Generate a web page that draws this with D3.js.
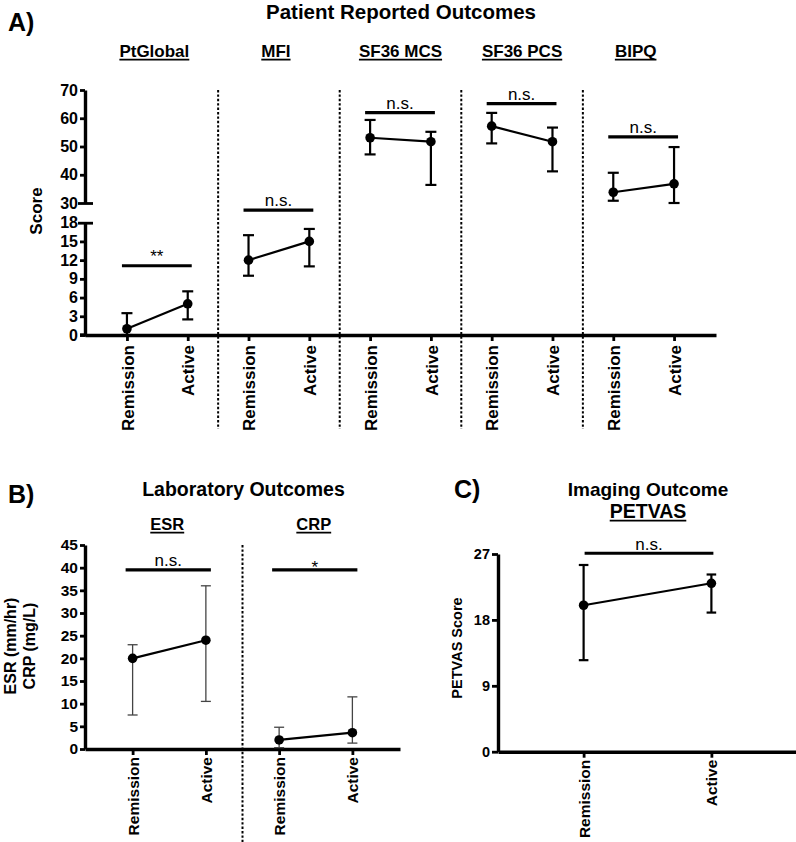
<!DOCTYPE html>
<html>
<head>
<meta charset="utf-8">
<script src="https://cdn.jsdelivr.net/npm/d3@7"></script>
<style>
  html, body { margin: 0; padding: 0; background: #fff; }
  svg { display: block; }
</style>
</head>
<body>
<svg id="chart" width="796" height="842"></svg>
<script>
// ---------------- DATA ----------------
const conditions = ["Remission", "Active"];

// Panel A: Patient Reported Outcomes
const groupsA = ["PtGlobal", "MFI", "SF36 MCS", "SF36 PCS", "BIPQ"];
const meanA  = [[1, 5], [12, 15], [53.1, 51.7], [57.2, 51.7], [33.8, 36.8]];
const upperA = [[3.5, 7], [16, 17], [59.4, 55.2], [61.9, 56.7], [40.7, 49.8]];
const lowerA = [[0, 2.5], [9.5, 11], [47.2, 36.4], [51.1, 41.2], [30.8, 30]];
const sigA = ["**", "n.s.", "n.s.", "n.s.", "n.s."];
const bracketA = [11.1, 20, 62, 65.2, 53.4];
const ticksALow = [0, 3, 6, 9, 12, 15, 18];
const ticksAHigh = [30, 40, 50, 60, 70];

// Panel B: Laboratory Outcomes
const groupsB = ["ESR", "CRP"];
const meanB  = [[20, 24], [2, 3.6]];
const upperB = [[23, 36], [4.8, 11.5]];
const lowerB = [[7.5, 10.5], [0.3, 1.3]];
const sigB = ["n.s.", "*"];
const bracketB = [39.5, 39.5];
const ticksB = [0, 5, 10, 15, 20, 25, 30, 35, 40, 45];

// Panel C: Imaging Outcome
const groupsC = ["PETVAS"];
const meanC  = [[20, 23]];
const upperC = [[25.5, 24.2]];
const lowerC = [[12.5, 19]];
const sigC = ["n.s."];
const bracketC = [27.1];
const ticksC = [0, 9, 18, 27];

// ---------------- DRAW ----------------
const FONT = "'Liberation Sans', Arial, Helvetica, sans-serif";
const svg = d3.select("#chart");
svg.append("rect").attr("width", 796).attr("height", 842).attr("fill", "#fff");

function txt(g, s, x, y, size, weight, anchor) {
  return g.append("text").attr("x", x).attr("y", y)
    .attr("font-family", FONT).attr("font-size", size)
    .attr("font-weight", weight || "bold")
    .attr("text-anchor", anchor || "middle").attr("fill", "#000").text(s);
}
function underlined(g, s, x, y, size) {
  const t = txt(g, s, x, y, size, "bold", "middle");
  const w = t.node().getComputedTextLength();
  g.append("line").attr("x1", x - w / 2).attr("x2", x + w / 2)
    .attr("y1", y + 2.6).attr("y2", y + 2.6)
    .attr("stroke", "#000").attr("stroke-width", 1.8);
}
function styleAxis(g, size) {
  g.attr("font-family", FONT);
  g.selectAll("text").attr("font-size", size).attr("font-weight", "bold").attr("fill", "#000");
  g.selectAll("line").attr("stroke", "#000").attr("stroke-width", 2.8);
  g.select(".domain").attr("stroke", "#000").attr("stroke-width", 3.4);
}
function rotateXLabels(g, offset) {
  g.selectAll("text")
    .attr("transform", "rotate(-90)")
    .attr("x", -offset).attr("y", 0).attr("dy", "0.36em")
    .style("text-anchor", "end");
}

// generic group drawing
function drawGroup(g, xPos, yScale, mean, up, lo, opt) {
  g.append("line")
    .attr("x1", xPos[0]).attr("y1", yScale(mean[0]))
    .attr("x2", xPos[1]).attr("y2", yScale(mean[1]))
    .attr("stroke", "#000").attr("stroke-width", 2.2);
  for (let k = 0; k < 2; k++) {
    const x = xPos[k];
    g.append("line").attr("x1", x).attr("x2", x)
      .attr("y1", yScale(lo[k])).attr("y2", yScale(up[k]))
      .attr("stroke", opt.errColor).attr("stroke-width", opt.errWidth);
    [up[k], lo[k]].forEach(v => {
      g.append("line").attr("x1", x - opt.cap).attr("x2", x + opt.cap)
        .attr("y1", yScale(v)).attr("y2", yScale(v))
        .attr("stroke", opt.errColor).attr("stroke-width", opt.errWidth);
    });
    g.append("circle").attr("cx", x).attr("cy", yScale(mean[k]))
      .attr("r", 4.8).attr("fill", "#000");
  }
}
function drawBracket(g, x1, x2, y, label, textOffset) {
  g.append("line").attr("x1", x1).attr("x2", x2).attr("y1", y).attr("y2", y)
    .attr("stroke", "#000").attr("stroke-width", 3.2);
  txt(g, label, (x1 + x2) / 2, y - (textOffset || 4), 17, "normal", "middle");
}

// ======== Panel A ========
{
  const g = svg.append("g");
  txt(g, "A)", 8, 31, 25, "bold", "start");
  txt(g, "Patient Reported Outcomes", 401, 18.5, 20.5, "bold", "middle");

  const keys = groupsA.flatMap(gr => conditions.map(c => gr + "|" + c));
  const x = d3.scalePoint().domain(keys).range([85, 716]).padding(0.69);
  const yLow = d3.scaleLinear().domain([0, 18]).range([335, 222.7]);
  const yHigh = d3.scaleLinear().domain([30, 70]).range([203, 90]);
  const yFor = i => (i < 2 ? yLow : yHigh);

  for (let i = 0; i < groupsA.length - 1; i++) {
    const xd = (x(groupsA[i] + "|Active") + x(groupsA[i + 1] + "|Remission")) / 2;
    g.append("line").attr("x1", xd).attr("x2", xd).attr("y1", 90).attr("y2", 429)
      .attr("stroke", "#000").attr("stroke-width", 2).attr("stroke-dasharray", "2.4,2");
  }

  const yl = g.append("g").attr("transform", "translate(85,0)")
    .call(d3.axisLeft(yLow).tickValues(ticksALow).tickSize(5).tickPadding(2).tickSizeOuter(0));
  const yh = g.append("g").attr("transform", "translate(85,0)")
    .call(d3.axisLeft(yHigh).tickValues(ticksAHigh).tickSize(5).tickPadding(2).tickSizeOuter(0));
  styleAxis(yl, 16); styleAxis(yh, 16);
  yl.selectAll(".tick").filter(d => d === 18).select("line").attr("x1", 8).attr("x2", -7);
  yh.selectAll(".tick").filter(d => d === 30).select("line").attr("x1", 8).attr("x2", -7);

  const xa = g.append("g").attr("transform", "translate(0,335)")
    .call(d3.axisBottom(x).tickSize(6).tickSizeOuter(0).tickFormat(d => d.split("|")[1]));
  styleAxis(xa, 17);
  rotateXLabels(xa, 10);
  g.append("line").attr("x1", 80).attr("x2", 86).attr("y1", 335).attr("y2", 335)
    .attr("stroke", "#000").attr("stroke-width", 3.4);

  g.append("text").attr("transform", "translate(42,211) rotate(-90)")
    .attr("font-family", FONT).attr("font-size", 17).attr("font-weight", "bold")
    .attr("text-anchor", "middle").text("Score");

  const subOffset = [-3, -3, 0, 0, -8];
  groupsA.forEach((gr, i) => {
    const xs = conditions.map(c => x(gr + "|" + c));
    underlined(g, gr, (xs[0] + xs[1]) / 2 + subOffset[i], 57, 17);
    drawGroup(g, xs, yFor(i), meanA[i], upperA[i], lowerA[i],
      { errColor: "#000", errWidth: 2.2, cap: 5.5 });
    drawBracket(g, xs[0] - 5, xs[1] + 4, yFor(i)(bracketA[i]), sigA[i], 4);
  });
}

// ======== Panel B ========
{
  const g = svg.append("g");
  txt(g, "B)", 8, 503, 25, "bold", "start");
  txt(g, "Laboratory Outcomes", 243.5, 496, 19.5, "bold", "middle");

  const keys = groupsB.flatMap(gr => conditions.map(c => gr + "|" + c));
  const x = d3.scalePoint().domain(keys).range([85, 400]).padding(0.65);
  const y = d3.scaleLinear().domain([0, 45]).range([749, 545]);

  const xd = (x("ESR|Active") + x("CRP|Remission")) / 2;
  g.append("line").attr("x1", xd).attr("x2", xd).attr("y1", 545).attr("y2", 842)
    .attr("stroke", "#000").attr("stroke-width", 2).attr("stroke-dasharray", "2.4,2");

  const ya = g.append("g").attr("transform", "translate(85,0)")
    .call(d3.axisLeft(y).tickValues(ticksB).tickSize(5).tickPadding(2).tickSizeOuter(0));
  styleAxis(ya, 15.5);
  const xa = g.append("g").attr("transform", "translate(0,749)")
    .call(d3.axisBottom(x).tickSize(6).tickSizeOuter(0).tickFormat(d => d.split("|")[1]));
  styleAxis(xa, 15.5);
  rotateXLabels(xa, 8);

  const yl = g.append("text").attr("transform", "translate(0,646) rotate(-90)")
    .attr("font-family", FONT).attr("font-size", 16).attr("font-weight", "bold")
    .attr("text-anchor", "middle");
  yl.append("tspan").attr("x", 0).attr("y", 15.5).text("ESR (mm/hr)");
  yl.append("tspan").attr("x", 0).attr("y", 35).text("CRP (mg/L)");

  groupsB.forEach((gr, i) => {
    const xs = conditions.map(c => x(gr + "|" + c));
    underlined(g, gr, (xs[0] + xs[1]) / 2 - 2, 530, 16.5);
    drawGroup(g, xs, y, meanB[i], upperB[i], lowerB[i],
      { errColor: "#444", errWidth: 1.3, cap: 5 });
    drawBracket(g, xs[0] - 7, xs[1] + 5, y(bracketB[i]), sigB[i], sigB[i] === "*" ? -3 : 4);
  });
}

// ======== Panel C ========
{
  const g = svg.append("g");
  txt(g, "C)", 454, 498, 25, "bold", "start");
  txt(g, "Imaging Outcome", 648, 496, 19, "bold", "middle");

  const keys = groupsC.flatMap(gr => conditions.map(c => gr + "|" + c));
  const x = d3.scalePoint().domain(keys).range([498, 797]).padding(0.67);
  const y = d3.scaleLinear().domain([0, 27]).range([751.7, 554]);

  const ya = g.append("g").attr("transform", "translate(498,0)")
    .call(d3.axisLeft(y).tickValues(ticksC).tickSize(6).tickPadding(2).tickSizeOuter(0));
  styleAxis(ya, 14.5);
  const xa = g.append("g").attr("transform", "translate(0,751.7)")
    .call(d3.axisBottom(x).tickSize(6).tickSizeOuter(0).tickFormat(d => d.split("|")[1]));
  styleAxis(xa, 15.5);
  rotateXLabels(xa, 8);

  g.append("text").attr("transform", "translate(461.5,648) rotate(-90)")
    .attr("font-family", FONT).attr("font-size", 14.5).attr("font-weight", "bold")
    .attr("text-anchor", "middle").text("PETVAS Score");

  groupsC.forEach((gr, i) => {
    const xs = conditions.map(c => x(gr + "|" + c));
    underlined(g, gr, 648, 518, 19.5);
    drawGroup(g, xs, y, meanC[i], upperC[i], lowerC[i],
      { errColor: "#000", errWidth: 2.2, cap: 4.8 });
    drawBracket(g, xs[0] + 1, xs[1] + 2, y(bracketC[i]), sigC[i], 3.5);
  });
}
</script>
</body>
</html>
